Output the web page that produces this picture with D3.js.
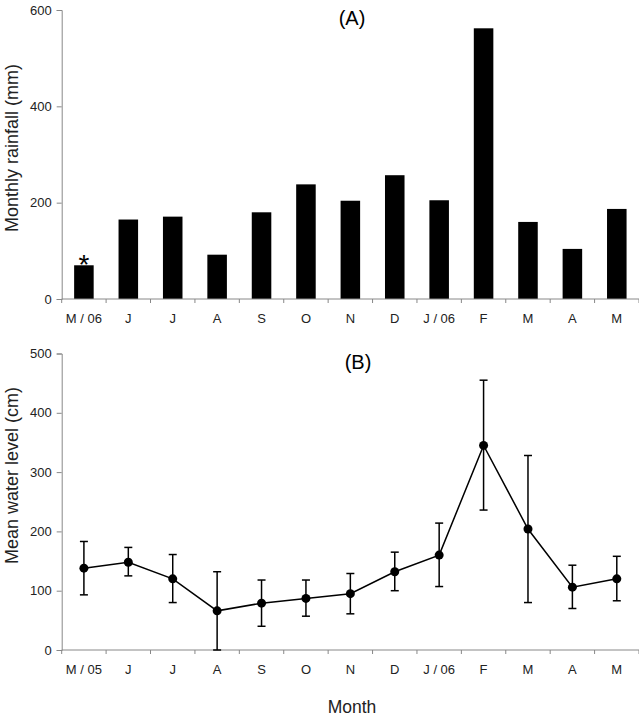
<!DOCTYPE html>
<html>
<head>
<meta charset="utf-8">
<script src="https://cdn.jsdelivr.net/npm/d3@7"></script>
<style>
  body { margin: 0; background: #fff; }
  svg { display: block; }
</style>
</head>
<body>
<svg id="chart"></svg>
<script>
const width = 639;
const height = 717;

// data -------------------------------------------
const months_a = ['M / 06', 'J', 'J', 'A', 'S', 'O', 'N', 'D', 'J / 06', 'F', 'M', 'A', 'M'];
const rainfall = [70, 165, 171, 92, 180, 238, 204, 257, 205, 562, 160, 104, 187];

const months_b = ['M / 05', 'J', 'J', 'A', 'S', 'O', 'N', 'D', 'J / 06', 'F', 'M', 'A', 'M'];
const water_mean = [138, 148, 120, 66, 79, 87, 95, 132, 160, 345, 204, 106, 120];
const water_low = [93, 125, 80, 0, 40, 57, 61, 100, 107, 236, 80, 70, 83];
const water_high = [183, 173, 161, 132, 118, 118, 129, 165, 214, 455, 328, 143, 158];

const rain_ticks = [0, 200, 400, 600];
const water_ticks = [0, 100, 200, 300, 400, 500];

const font = 'Arial, "Liberation Sans", sans-serif';
const axis_color = '#888';
const text_color = '#222';

const svg = d3.select('#chart')
    .attr('width', width)
    .attr('height', height);

const plot_left = 61.7;
const plot_right = 639;

// index based band scale so repeated month names stay separate
const x = d3.scaleBand()
    .domain(d3.range(13))
    .range([plot_left, plot_right])
    .paddingInner(0.56)
    .paddingOuter(0.28);

const xLine = d3.scaleBand()
    .domain(d3.range(13))
    .range([plot_left, plot_right]);

function drawAxes(g, y, ticks, labels, yBottom) {
    // y axis
    const yAxis = g.append('g')
        .attr('transform', `translate(${plot_left},0)`)
        .call(d3.axisLeft(y).tickValues(ticks).tickSize(5).tickPadding(5));
    yAxis.select('.domain').attr('stroke', axis_color);
    yAxis.selectAll('.tick line').attr('stroke', axis_color);
    yAxis.selectAll('.tick text')
        .attr('fill', text_color)
        .style('font-family', font)
        .style('font-size', '13px');

    // x axis: ticks on the band edges, labels in the middle
    g.append('line')
        .attr('x1', plot_left).attr('x2', plot_right)
        .attr('y1', yBottom).attr('y2', yBottom)
        .attr('stroke', axis_color);
    g.selectAll('.xtick')
        .data(d3.range(14))
        .enter()
        .append('line')
        .attr('x1', d => plot_left + d * xLine.step())
        .attr('x2', d => plot_left + d * xLine.step())
        .attr('y1', yBottom)
        .attr('y2', yBottom + 4)
        .attr('stroke', axis_color);
    g.selectAll('.xlabel')
        .data(labels)
        .enter()
        .append('text')
        .text(d => d)
        .attr('x', (d, i) => xLine(i) + xLine.bandwidth() / 2)
        .attr('y', yBottom + 24)
        .attr('text-anchor', 'middle')
        .attr('fill', text_color)
        .style('font-family', font)
        .style('font-size', '13px');
}

// PANEL A -------------------------------------------
const yA = d3.scaleLinear().domain([0, 600]).range([299, 10]);
const gA = svg.append('g');

gA.selectAll('.bar')
    .data(rainfall)
    .enter()
    .append('rect')
    .attr('x', (d, i) => x(i))
    .attr('width', x.bandwidth())
    .attr('y', d => yA(d))
    .attr('height', d => yA(0) - yA(d))
    .attr('fill', '#000');

drawAxes(gA, yA, rain_ticks, months_a, yA(0));

// asterisk over the first bar (glyph sits high in the em box)
gA.append('text')
    .text('*')
    .attr('x', xLine(0) + xLine.bandwidth() / 2)
    .attr('y', yA(rainfall[0]) + 9)
    .attr('text-anchor', 'middle')
    .style('font-family', font)
    .style('font-size', '28px');

gA.append('text')
    .text('(A)')
    .attr('x', 352)
    .attr('y', 25)
    .attr('text-anchor', 'middle')
    .style('font-family', font)
    .style('font-size', '20px');

gA.append('text')
    .text('Monthly rainfall (mm)')
    .attr('transform', 'translate(17.5,148) rotate(-90)')
    .attr('text-anchor', 'middle')
    .attr('fill', text_color)
    .style('font-family', font)
    .style('font-size', '18px');

// PANEL B -------------------------------------------
const yB = d3.scaleLinear().domain([0, 500]).range([650, 353.5]);
const gB = svg.append('g');

drawAxes(gB, yB, water_ticks, months_b, yB(0));

const cx = i => xLine(i) + xLine.bandwidth() / 2;

gB.append('path')
    .datum(water_mean)
    .attr('d', d3.line().x((d, i) => cx(i)).y(d => yB(d)))
    .attr('fill', 'none')
    .attr('stroke', '#000')
    .attr('stroke-width', 1.5);

const err = gB.selectAll('.err')
    .data(water_mean)
    .enter()
    .append('g');
err.append('line')
    .attr('x1', (d, i) => cx(i)).attr('x2', (d, i) => cx(i))
    .attr('y1', (d, i) => yB(water_low[i]))
    .attr('y2', (d, i) => yB(water_high[i]))
    .attr('stroke', '#000')
    .attr('stroke-width', 1.5);
err.append('line')
    .attr('x1', (d, i) => cx(i) - 4).attr('x2', (d, i) => cx(i) + 4)
    .attr('y1', (d, i) => yB(water_high[i]))
    .attr('y2', (d, i) => yB(water_high[i]))
    .attr('stroke', '#000')
    .attr('stroke-width', 1.5);
err.append('line')
    .attr('x1', (d, i) => cx(i) - 4).attr('x2', (d, i) => cx(i) + 4)
    .attr('y1', (d, i) => yB(water_low[i]))
    .attr('y2', (d, i) => yB(water_low[i]))
    .attr('stroke', '#000')
    .attr('stroke-width', 1.5);

gB.selectAll('.dot')
    .data(water_mean)
    .enter()
    .append('circle')
    .attr('cx', (d, i) => cx(i))
    .attr('cy', d => yB(d))
    .attr('r', 4.5)
    .attr('fill', '#000');

gB.append('text')
    .text('(B)')
    .attr('x', 358)
    .attr('y', 369)
    .attr('text-anchor', 'middle')
    .style('font-family', font)
    .style('font-size', '20px');

gB.append('text')
    .text('Mean water level (cm)')
    .attr('transform', 'translate(17.5,475.5) rotate(-90)')
    .attr('text-anchor', 'middle')
    .attr('fill', text_color)
    .style('font-family', font)
    .style('font-size', '18px');

svg.append('text')
    .text('Month')
    .attr('x', 352)
    .attr('y', 713)
    .attr('text-anchor', 'middle')
    .attr('fill', text_color)
    .style('font-family', font)
    .style('font-size', '17.5px');
</script>
</body>
</html>
